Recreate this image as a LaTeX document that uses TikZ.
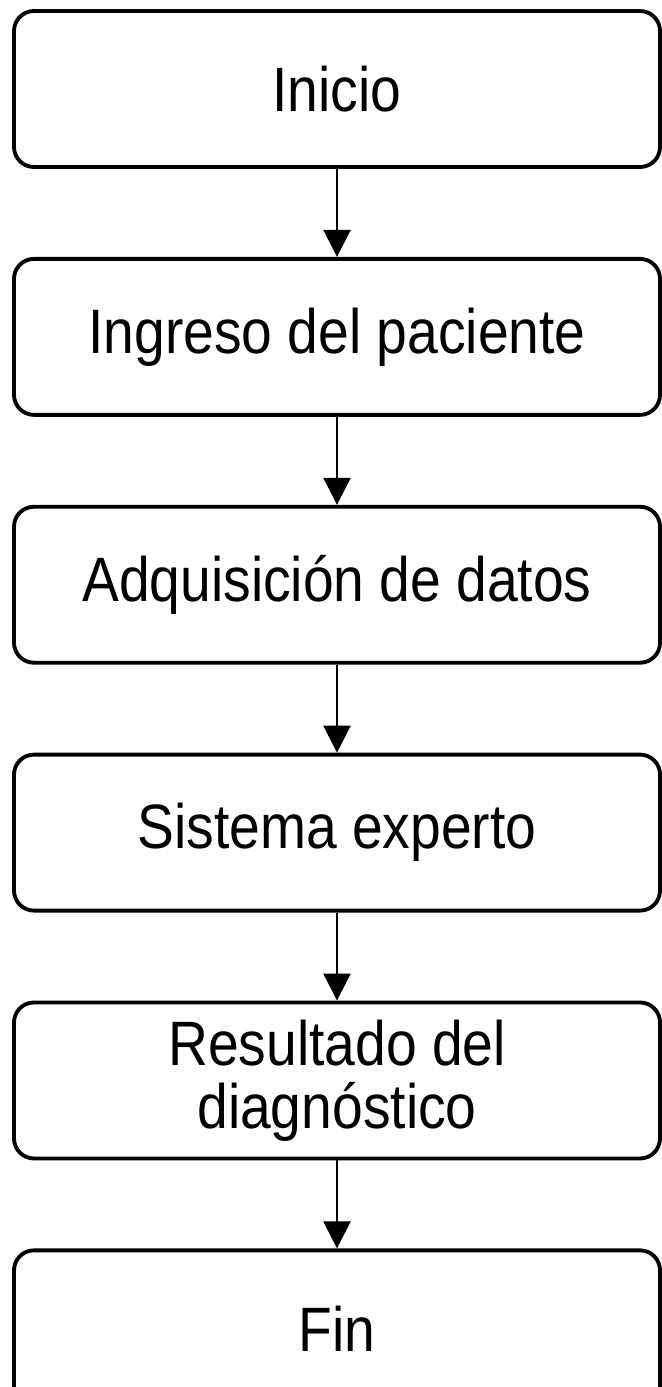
\documentclass[tikz,border=0pt]{standalone}
\usepackage{fontspec}
\setmainfont{Liberation Sans}[FakeStretch=0.88]
\usetikzlibrary{arrows.meta,positioning}

\begin{document}
\begin{tikzpicture}[
  node distance=1.76cm,
  stage/.style={draw, line width=2.2pt, rounded corners=0.4cm, fill=white, minimum width=12.92cm, minimum height=3.12cm, align=center, font=\fontsize{35.7}{36}\selectfont},
  flow/.style={line width=1.3pt, -{Triangle[length=0.54cm,width=0.54cm]}}
]

\fill[white] (0,0) rectangle (13.22,-27.74);
\useasboundingbox (0,0) rectangle (13.22,-27.74);

\node[stage] (inicio) at (6.74,-1.78) {Inicio};
\node[stage, below=of inicio] (ingreso) {Ingreso del paciente};
\node[stage, below=of ingreso] (datos) {Adquisición de datos};
\node[stage, below=of datos] (experto) {Sistema experto};
\node[stage, below=of experto] (resultado) {Resultado del\\diagnóstico};
\node[stage, below=of resultado] (fin) {Fin};

\draw[flow] (inicio) -- (ingreso);
\draw[flow] (ingreso) -- (datos);
\draw[flow] (datos) -- (experto);
\draw[flow] (experto) -- (resultado);
\draw[flow] (resultado) -- (fin);

\end{tikzpicture}
\end{document}
